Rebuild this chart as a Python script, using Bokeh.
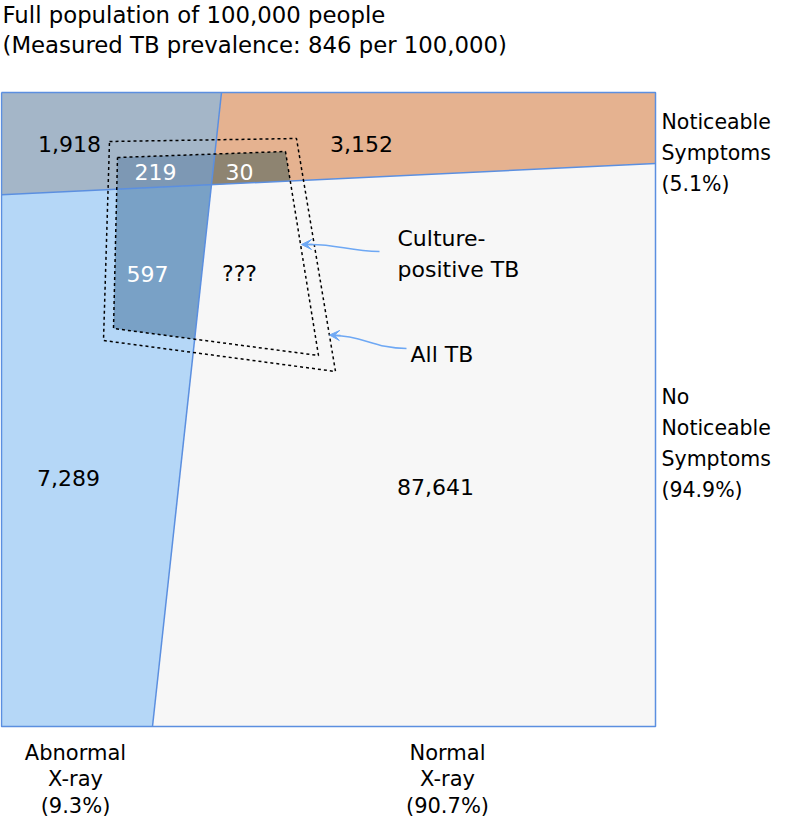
from bokeh.plotting import figure
from bokeh.models import Range1d, Arrow, VeeHead
from bokeh.core.properties import value
from bokeh.embed import file_html
from bokeh.resources import INLINE

# ---------------- data ----------------
population = 100000
prevalence_per_100k = 846
xray_groups = ["Abnormal", "Normal"]
xray_pct = [9.3, 90.7]
symptom_groups = [["Noticeable", "Symptoms"], ["No", "Noticeable", "Symptoms"]]
symptom_pct = [5.1, 94.9]
# cells: (symptoms, abnormal), (symptoms, normal), (no symptoms, abnormal), (no symptoms, normal)
cell_counts = [1918, 3152, 7289, 87641]
# culture-positive TB in: (symptoms, abnormal), (symptoms, normal), (no symptoms, abnormal)
tb_counts = [219, 30, 597]
tb_unknown = "???"
tb_set_names = [["Culture-", "positive TB"], ["All TB"]]

# ---------------- layout (pixel space) ----------------
W, H = 773, 824
FONT = "DejaVu Sans"
FS = "22px"
FS_TITLE = "22.8px"
FS_SIDE = "20.5px"
FS_BOTTOM = "21px"

BOX_L, BOX_T, BOX_R, BOX_B = 1.0, 92.0, 655.0, 726.0
H_LEFT_Y, H_RIGHT_Y = 194.3, 163.0        # symptom divider
V_TOP_X, V_BOT_X = 221.0, 152.0           # x-ray divider
INNER = [(117, 157), (285, 151), (318, 355), (113, 328)]   # culture-positive TB
OUTER = [(109, 141), (296, 138), (335, 371), (103, 340)]   # all TB

C_SYM_ABN = "#a4b6c8"
C_SYM_NOR = "#e5b290"
C_NOS_ABN = "#b5d7f7"
C_NOS_NOR = "#f7f7f7"
C_DARK = ["#7d98b4", "#8e8471", "#79a1c6"]
C_EDGE = "#5b8fe0"
C_ARROW = "#6ea8f4"


def line_intersect(p1, p2, p3, p4):
    x1, y1 = p1; x2, y2 = p2; x3, y3 = p3; x4, y4 = p4
    d = (x1 - x2) * (y3 - y4) - (y1 - y2) * (x3 - x4)
    t = ((x1 - x3) * (y3 - y4) - (y1 - y3) * (x3 - x4)) / d
    return (x1 + t * (x2 - x1), y1 + t * (y2 - y1))


def clip(subject, clipper):
    cx = sum(q[0] for q in clipper) / len(clipper)
    cy = sum(q[1] for q in clipper) / len(clipper)
    out = list(subject)
    n = len(clipper)
    for i in range(n):
        a, b = clipper[i], clipper[(i + 1) % n]

        def side(q, a=a, b=b):
            return (b[0] - a[0]) * (q[1] - a[1]) - (b[1] - a[1]) * (q[0] - a[0])

        ref = side((cx, cy))
        inside = lambda q: side(q) * ref >= 0
        inp, out = out, []
        if not inp:
            break
        prev = inp[-1]
        for cur in inp:
            if inside(cur):
                if not inside(prev):
                    out.append(line_intersect(prev, cur, a, b))
                out.append(cur)
            elif inside(prev):
                out.append(line_intersect(prev, cur, a, b))
            prev = cur
    return out


hl, hr = (BOX_L, H_LEFT_Y), (BOX_R, H_RIGHT_Y)
vt, vb = (V_TOP_X, BOX_T), (V_BOT_X, BOX_B)
P = line_intersect(hl, hr, vt, vb)

cells = [
    [(BOX_L, BOX_T), vt, P, hl],
    [vt, (BOX_R, BOX_T), hr, P],
    [hl, P, vb, (BOX_L, BOX_B)],
    [P, hr, (BOX_R, BOX_B), vb],
]
cell_colors = [C_SYM_ABN, C_SYM_NOR, C_NOS_ABN, C_NOS_NOR]

p = figure(width=W, height=H, x_range=Range1d(0, W), y_range=Range1d(H, 0),
           output_backend="svg", toolbar_location=None, min_border=0)
p.axis.visible = False
p.grid.visible = False
p.outline_line_color = None
p.background_fill_color = "white"
p.border_fill_color = "white"

p.patches([[q[0] for q in c] for c in cells], [[q[1] for q in c] for c in cells],
          fill_color=cell_colors, line_color=None)

dark = [clip(INNER, cells[i]) for i in range(3)]
p.patches([[q[0] for q in d] for d in dark], [[q[1] for q in d] for d in dark],
          fill_color=C_DARK, line_color=None)

# borders
p.line([BOX_L, BOX_R, BOX_R, BOX_L, BOX_L], [BOX_T, BOX_T, BOX_B, BOX_B, BOX_T],
       line_color=C_EDGE, line_width=1.5)
p.line([hl[0], hr[0]], [hl[1], hr[1]], line_color=C_EDGE, line_width=1.5)
p.line([vt[0], vb[0]], [vt[1], vb[1]], line_color=C_EDGE, line_width=1.5)

# dotted TB outlines
for poly in (INNER, OUTER):
    xs = [q[0] for q in poly] + [poly[0][0]]
    ys = [q[1] for q in poly] + [poly[0][1]]
    p.line(xs, ys, line_color="black", line_width=1.5, line_dash="3 3")

# arrows
p.bezier(x0=[379, 406], y0=[251, 348], x1=[306, 334], y1=[244, 335],
         cx0=[348, 374], cy0=[251, 348], cx1=[336, 362], cy1=[243, 335],
         line_color=C_ARROW, line_width=1.5)
for (xs, ys, xe, ye) in [(312, 244, 301, 244), (340, 335, 329, 334.5)]:
    p.add_layout(Arrow(end=VeeHead(size=10, fill_color=C_ARROW, line_color=C_ARROW),
                       x_start=xs, y_start=ys, x_end=xe, y_end=ye,
                       line_color=C_ARROW, line_width=1.5))


def txt(x, y, s, align="left", color="black", size=FS):
    p.text(x=[x], y=[y], text=[s], text_font=value(FONT), text_font_size=size,
           text_align=align, text_baseline="middle", text_color=color)


# title
txt(2, 14, f"Full population of {population:,} people", size=FS_TITLE)
txt(2, 44, f"(Measured TB prevalence: {prevalence_per_100k} per {population:,})", size=FS_TITLE)

# cell counts
cell_pos = [(69, 143), (361, 143), (68, 477), (435, 486)]
for (x, y), v in zip(cell_pos, cell_counts):
    txt(x, y, f"{v:,}", align="center")

tb_pos = [(155, 171), (239, 171), (147, 273)]
for (x, y), v in zip(tb_pos, tb_counts):
    txt(x, y, f"{v:,}", align="center", color="white")
txt(239, 273, tb_unknown, align="center")

# TB set labels
set_pos = [(397, 238, 31), (410, 354, 31)]
for (x, y, dy), lines in zip(set_pos, tb_set_names):
    for k, s in enumerate(lines):
        txt(x, y + k * dy, s)

# symptom labels (right)
sym_pos = [(661, 121), (661, 396)]
for (x, y), lines, pct in zip(sym_pos, symptom_groups, symptom_pct):
    for k, s in enumerate(lines + [f"({pct}%)"]):
        txt(x, y + k * 31, s, size=FS_SIDE)

# x-ray labels (bottom)
xr_pos = [(75, 752), (447, 752)]
for (x, y), name, pct in zip(xr_pos, xray_groups, xray_pct):
    for k, s in enumerate([name, "X-ray", f"({pct}%)"]):
        txt(x, y + k * 26.5, s, align="center", size=FS_BOTTOM)

open("out.html", "w").write(file_html(p, INLINE))
